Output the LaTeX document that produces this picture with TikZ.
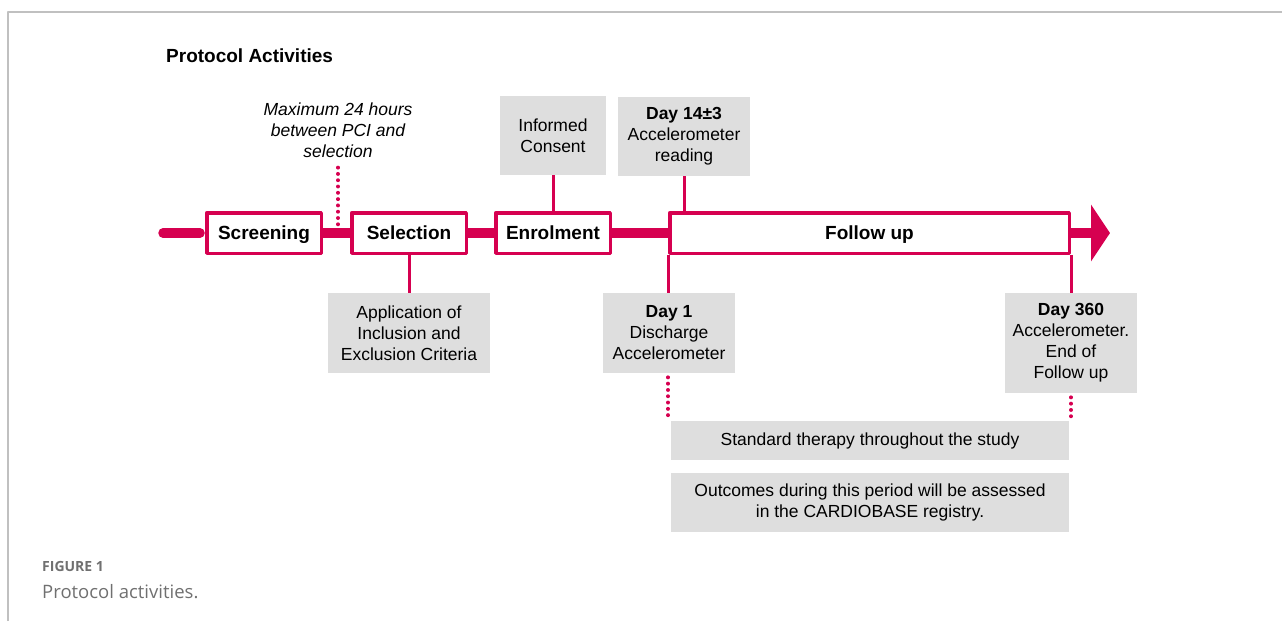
\documentclass[tikz,border=0pt]{standalone}
\usepackage{fontspec}
\setmainfont{Liberation Sans}
\newfontfamily\capfont{Open Sans}
\usepackage{xcolor}
\usetikzlibrary{arrows.meta,positioning}
\definecolor{tlred}{RGB}{214,0,80}
\definecolor{boxgray}{RGB}{222,222,222}
\definecolor{framegray}{RGB}{192,192,192}
\definecolor{capgray}{RGB}{112,112,112}
\newcommand{\txt}{\fontsize{17.5}{21}\selectfont}
\newcommand{\btxt}{\fontsize{19}{22}\selectfont\bfseries}

\begin{document}
\begin{tikzpicture}
    [line join=round,x=1pt,y=-1pt,
     phase/.style={draw=tlred,line width=3.5pt,fill=white,minimum height=40.5pt,inner sep=0pt,
       text height=13.5pt,text depth=0pt,font=\btxt},
     note/.style={fill=boxgray,align=center,inner sep=0pt,font=\txt},
     bar/.style={tlred,line width=9.5pt},
     link/.style={tlred,line width=3pt},
     dots/.style={tlred,line width=3.6pt,line cap=round,dash pattern=on 0.3pt off 6pt}]
\useasboundingbox (0,0) rectangle (1282,621);
%frame and caption
\draw[framegray,line width=1.2pt] (8,621) -- (8,12) -- (1282,12);
\node[anchor=west,inner sep=0pt,text=capgray,font=\capfont\bfseries\fontsize{14}{16}\selectfont] (fig) at (42,566) {FIGURE 1};
\node[anchor=west,inner sep=0pt,text=capgray,font=\capfont\fontsize{18.5}{21}\selectfont] (cap) at (42,592) {Protocol activities.};
\node[anchor=west,inner sep=0pt,font=\fontsize{19}{21}\selectfont\bfseries] (title) at (166,56) {Protocol Activities};

%the phases on the time line
\node[phase,minimum width=114.5pt] (screening) at (264,233) {Screening};
\node[phase,minimum width=114.5pt] (selection) at (409,233) {Selection};
\node[phase,minimum width=114.5pt] (enrolment) at (553,233) {Enrolment};
\node[phase,minimum width=399.5pt] (followup) at (869.5,233) {Follow up};
\coordinate (start) at (163,233);
\coordinate (tip) at (1110,233);

%the bar between them
\draw[bar,line cap=round,shorten >=5pt] (start) -- (screening.west);
\draw[bar] (screening.east) -- (selection.west);
\draw[bar] (selection.east) -- (enrolment.west);
\draw[bar] (enrolment.east) -- (followup.west);
\draw[bar,-{Triangle[width=56pt,length=19pt]}] (followup.east) -- (tip);

%grey notes
\node[note,minimum width=106pt,minimum height=79pt] (consent) at (553,135.5) {Informed\\Consent};
\node[note,minimum width=132pt,minimum height=79pt] (day14) at (684,136.5) {\textbf{Day 14±3}\\Accelerometer\\reading};
\node[note,minimum width=162pt,minimum height=80pt] (criteria) at (409,333) {Application of\\Inclusion and\\Exclusion Criteria};
\node[note,minimum width=132pt,minimum height=80pt] (day1) at (669,333) {\textbf{Day 1}\\Discharge\\Accelerometer};
\node[note,minimum width=132pt,minimum height=100pt] (day360) at (1071,343) {\textbf{Day 360}\\Accelerometer.\\End of\\Follow up};
\node[note,minimum width=398pt,minimum height=39pt] (therapy) at (870,440.5) {Standard therapy throughout the study};
\node[note,minimum width=398pt,minimum height=59pt] (outcomes) at (870,502.5) {Outcomes during this period will be assessed\\in the CARDIOBASE registry.};
\node[align=center,font=\txt\itshape] (max24) at (338,130.5) {Maximum 24 hours\\between PCI and\\selection};

%links
\draw[link] (consent.south) -- (enrolment.north);
\draw[link] (day14.south) -- (day14.south |- followup.north);
\draw[link] (selection.south) -- (criteria.north);
\draw[link] (followup.south west) -- (followup.south west |- day1.north);
\draw[link] (followup.south east) -- (followup.south east |- day360.north);
%dotted ones
\draw[dots] ([yshift=-6pt]max24.south) -- ([yshift=7pt]max24.south |- start);
\draw[dots] ([yshift=-4pt]day1.south west -| followup.south west) -- (followup.south west |- therapy.north);
\draw[dots] ([yshift=-4pt]day360.south) -- (day360.south |- therapy.north);
\end{tikzpicture}
\end{document}
